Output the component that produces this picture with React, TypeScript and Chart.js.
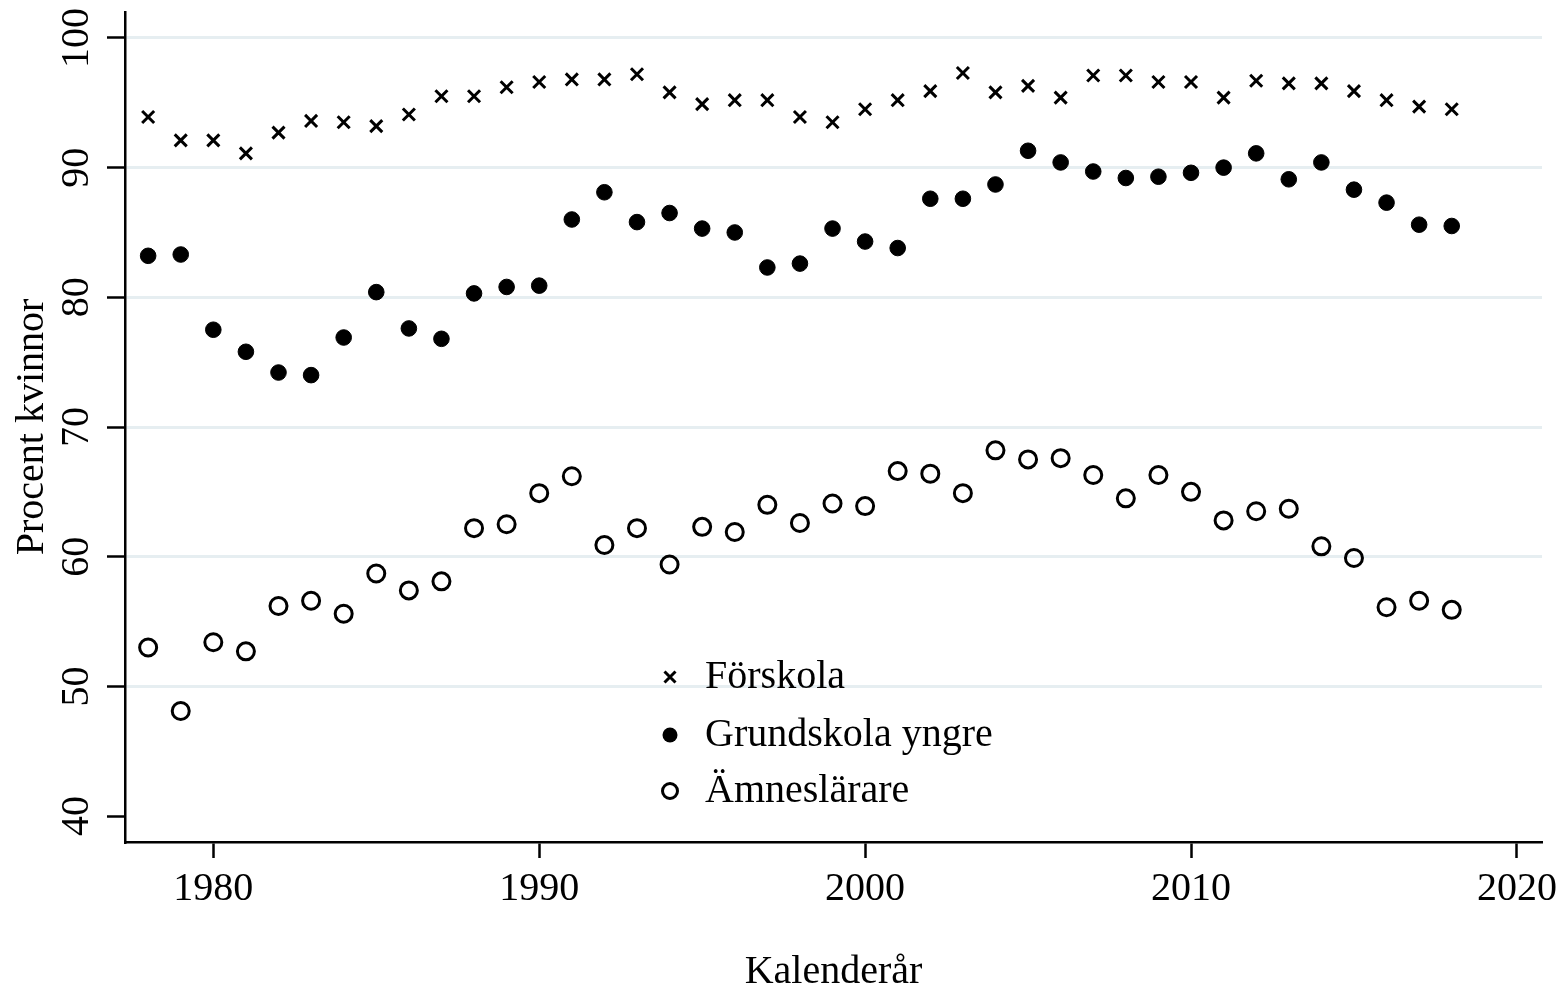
import React, { useEffect, useRef } from 'react';
import { Chart, registerables } from 'chart.js';

Chart.register(...registerables);

const years = [
  1978, 1979, 1980, 1981, 1982, 1983, 1984, 1985, 1986, 1987, 1988, 1989, 1990, 1991,
  1992, 1993, 1994, 1995, 1996, 1997, 1998, 1999, 2000, 2001, 2002, 2003, 2004, 2005,
  2006, 2007, 2008, 2009, 2010, 2011, 2012, 2013, 2014, 2015, 2016, 2017, 2018,
];

const forskola = [
  93.9, 92.1, 92.1, 91.1, 92.7, 93.6, 93.5, 93.2, 94.1, 95.5, 95.5, 96.2, 96.6, 96.8,
  96.8, 97.2, 95.8, 94.9, 95.2, 95.2, 93.9, 93.5, 94.5, 95.2, 95.9, 97.3, 95.8, 96.3,
  95.4, 97.1, 97.1, 96.6, 96.6, 95.4, 96.7, 96.5, 96.5, 95.9, 95.2, 94.7, 94.5,
];

const grundskolaYngre = [
  83.2, 83.3, 77.5, 75.8, 74.2, 74.0, 76.9, 80.4, 77.6, 76.8, 80.3, 80.8, 80.9, 86.0,
  88.1, 85.8, 86.5, 85.3, 85.0, 82.3, 82.6, 85.3, 84.3, 83.8, 87.6, 87.6, 88.7, 91.3,
  90.4, 89.7, 89.2, 89.3, 89.6, 90.0, 91.1, 89.1, 90.4, 88.3, 87.3, 85.6, 85.5,
];

const amneslarare = [
  53.0, 48.1, 53.4, 52.7, 56.2, 56.6, 55.6, 58.7, 57.4, 58.1, 62.2, 62.5, 64.9, 66.2,
  60.9, 62.2, 59.4, 62.3, 61.9, 64.0, 62.6, 64.1, 63.9, 66.6, 66.4, 64.9, 68.2, 67.5,
  67.6, 66.3, 64.5, 66.3, 65.0, 62.8, 63.5, 63.7, 60.8, 59.9, 56.1, 56.6, 55.9,
];

const seriesLabels = ['Förskola', 'Grundskola yngre', 'Ämneslärare'];
const xTickValues = [1980, 1990, 2000, 2010, 2020];
const yTickValues = [40, 50, 60, 70, 80, 90, 100];
const xTitle = 'Kalenderår';
const yTitle = 'Procent kvinnor';

const FONT = "'Liberation Serif', 'Times New Roman', serif";

const insideLegend = {
  id: 'insideLegend',
  afterDraw(chart: any) {
    const ctx = chart.ctx as CanvasRenderingContext2D;
    const markerX = 670;
    const textX = 705;
    const rowsY = [677, 735, 791];
    ctx.save();
    ctx.font = `40px ${FONT}`;
    ctx.textBaseline = 'middle';
    ctx.textAlign = 'left';
    ctx.fillStyle = '#000';
    ctx.strokeStyle = '#000';
    seriesLabels.forEach((label, i) => {
      const y = rowsY[i];
      if (i === 0) {
        const d = 5.5;
        ctx.lineWidth = 3;
        ctx.beginPath();
        ctx.moveTo(markerX - d, y - d);
        ctx.lineTo(markerX + d, y + d);
        ctx.moveTo(markerX + d, y - d);
        ctx.lineTo(markerX - d, y + d);
        ctx.stroke();
      } else if (i === 1) {
        ctx.beginPath();
        ctx.arc(markerX, y, 7.5, 0, Math.PI * 2);
        ctx.fill();
      } else {
        ctx.lineWidth = 3;
        ctx.beginPath();
        ctx.arc(markerX, y, 7.5, 0, Math.PI * 2);
        ctx.stroke();
      }
      ctx.fillText(label, textX, y);
    });
    ctx.restore();
  },
};

export default function App() {
  const ref = useRef<HTMLCanvasElement>(null);

  useEffect(() => {
    if (!ref.current) return;
    const toPoints = (vals: number[]) => years.map((x, i) => ({ x, y: vals[i] }));
    const chart = new Chart(ref.current, {
      type: 'scatter',
      data: {
        datasets: [
          {
            label: seriesLabels[0],
            data: toPoints(forskola),
            pointStyle: 'crossRot',
            pointRadius: 8.5,
            borderWidth: 3,
            borderColor: '#000',
            backgroundColor: '#000',
          },
          {
            label: seriesLabels[1],
            data: toPoints(grundskolaYngre),
            pointStyle: 'circle',
            pointRadius: 7.8,
            borderWidth: 1,
            borderColor: '#000',
            backgroundColor: '#000',
          },
          {
            label: seriesLabels[2],
            data: toPoints(amneslarare),
            pointStyle: 'circle',
            pointRadius: 8.5,
            borderWidth: 3,
            borderColor: '#000',
            backgroundColor: 'rgba(0,0,0,0)',
          },
        ],
      },
      options: {
        responsive: false,
        animation: false,
        events: [],
        layout: { padding: { left: 0, top: 12, right: 23, bottom: 0 } },
        plugins: {
          legend: { display: false },
          tooltip: { enabled: false },
        },
        scales: {
          x: {
            type: 'linear',
            min: 1977.29,
            max: 2020.77,
            afterBuildTicks: (s: any) => {
              s.ticks = xTickValues.map((v) => ({ value: v }));
            },
            afterFit: (s: any) => {
              s.height = 150;
              s.paddingLeft = 0;
              s.paddingRight = 0;
            },
            border: { display: true, color: '#000', width: 2.5 },
            grid: {
              display: true,
              drawOnChartArea: false,
              drawTicks: true,
              tickLength: 16,
              tickColor: '#000',
              tickWidth: 2.5,
            },
            ticks: {
              color: '#000',
              font: { family: FONT, size: 40 },
              padding: 7,
              maxRotation: 0,
              minRotation: 0,
              callback: (v: any) => String(v),
            },
            title: {
              display: true,
              text: xTitle,
              color: '#000',
              font: { family: FONT, size: 40, lineHeight: 1 },
              padding: { top: 0, bottom: 0 },
            },
          },
          y: {
            type: 'linear',
            min: 38,
            max: 102,
            afterBuildTicks: (s: any) => {
              s.ticks = yTickValues.map((v) => ({ value: v }));
            },
            afterFit: (s: any) => {
              s.width = 125;
              s.paddingTop = 0;
              s.paddingBottom = 0;
            },
            border: { display: true, color: '#000', width: 2.5 },
            grid: {
              display: true,
              drawOnChartArea: true,
              drawTicks: true,
              tickLength: 18,
              tickColor: '#000',
              tickWidth: 2.5,
              lineWidth: 3,
              color: (c: any) => (c.tick && c.tick.value === 40 ? 'rgba(0,0,0,0)' : '#e6eef1'),
            },
            ticks: {
              color: '#000',
              font: { family: FONT, size: 40 },
              padding: 0,
              minRotation: 90,
              maxRotation: 90,
              crossAlign: 'center',
              callback: (v: any) => String(v),
            },
            title: {
              display: true,
              text: yTitle,
              color: '#000',
              font: { family: FONT, size: 40 },
              padding: { top: 8, bottom: 0 },
            },
          },
        },
      },
      plugins: [insideLegend],
    } as any);
    return () => chart.destroy();
  }, []);

  return (
    <div style={{ position: 'fixed', left: 0, top: 0, width: 1565, height: 992, background: '#fff' }}>
      <canvas ref={ref} width={1565} height={992} style={{ display: 'block' }} />
    </div>
  );
}
